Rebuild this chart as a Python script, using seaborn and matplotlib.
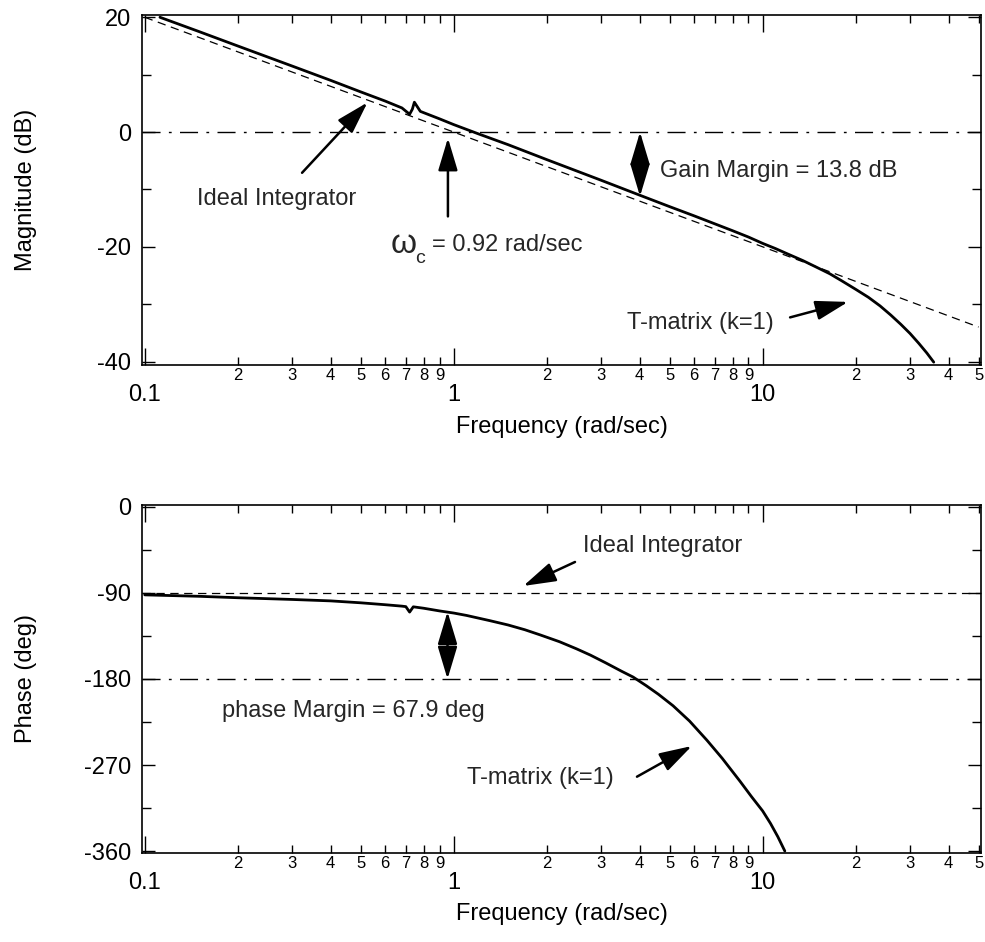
import numpy as np
import pandas as pd
import matplotlib
matplotlib.use("Agg")
import matplotlib.pyplot as plt
import seaborn as sns
from matplotlib.patches import ArrowStyle

# ---------------- data ----------------
ideal_freq = [0.1, 50.0]
ideal_mag = [20.0, -33.98]
ideal_phase = [-90.0, -90.0]

tm_mag_freq = [0.112, 0.15, 0.2, 0.3, 0.4, 0.5, 0.6, 0.68, 0.72, 0.735, 0.746, 0.78,
               0.9, 1.0, 1.2, 1.5, 2.0, 3.0, 4.0, 5.0, 6.0, 8.0, 9.0, 10.0, 11.0, 12.0,
               13.5, 15.0, 16.5, 18.0, 20.0, 22.0, 24.0, 26.0, 28.0, 30.0, 32.0, 34.0, 35.8]
tm_mag = [20.0, 17.5, 15.0, 11.5, 9.0, 7.0, 5.4, 4.2, 3.1, 4.0, 5.2, 3.6,
          2.3, 1.3, -0.3, -2.2, -4.8, -8.4, -11.0, -13.0, -14.6, -17.2, -18.3, -19.4, -20.3,
          -21.2, -22.4, -23.6, -24.7, -25.9, -27.4, -28.8, -30.3, -31.9, -33.5, -35.1,
          -36.8, -38.5, -40.1]

tm_ph_freq = [0.1, 0.15, 0.2, 0.3, 0.4, 0.5, 0.6, 0.68, 0.70, 0.72, 0.74, 0.8, 0.9, 1.0,
              1.1, 1.31, 1.5, 1.7, 1.91, 2.2, 2.5, 2.77, 3.1, 3.5, 3.81, 4.2, 4.6, 5.13,
              5.8, 6.6, 7.4, 8.45, 9.2, 10.0, 10.6, 11.2, 11.8]
tm_phase = [-92.0, -93.5, -95.0, -96.8, -98.3, -100.3, -102.3, -103.8, -104.3, -110.0,
            -104.5, -106.0, -108.8, -111.0, -113.5, -119.0, -123.5, -128.5, -134.0,
            -141.0, -148.5, -155.0, -163.0, -172.0, -178.0, -187.0, -196.0, -208.0,
            -224.0, -244.0, -263.0, -287.0, -303.0, -318.0, -331.0, -345.0, -360.0]

major_x = [0.1, 1, 10]
major_x_labels = ["0.1", "1", "10"]
minor_x = [0.2, 0.3, 0.4, 0.5, 0.6, 0.7, 0.8, 0.9,
           2, 3, 4, 5, 6, 7, 8, 9, 20, 30, 40, 50]
minor_x_labels = ["2", "3", "4", "5", "6", "7", "8", "9",
                  "2", "3", "4", "5", "6", "7", "8", "9", "2", "3", "4", "5"]
mag_ticks = [20, 0, -20, -40]
mag_minor = [10, -10, -30]
ph_ticks = [0, -90, -180, -270, -360]
ph_minor = [-45, -135, -225, -315]

# ---------------- style ----------------
sns.set_theme(style="ticks")
plt.rcParams["font.family"] = ["Liberation Sans", "DejaVu Sans"]
plt.rcParams["lines.scale_dashes"] = False

fig = plt.figure(figsize=(9.85, 9.42), dpi=100)
ax1 = fig.add_axes([0.1442, 0.6125, 0.8517, 0.3716])
ax2 = fig.add_axes([0.1442, 0.0945, 0.8517, 0.3694])

DASH = (0, (6, 4))
DASHDOT = (0, (13, 6, 2, 6))


def style_axis(ax, yt, ymin, ylim, ylabel):
    ax.set_xscale("log")
    ax.set_xlim(0.098, 50.9)
    ax.set_ylim(*ylim)
    ax.set_xticks(major_x)
    ax.set_xticklabels(major_x_labels)
    ax.set_xticks(minor_x, minor=True)
    ax.set_xticklabels(minor_x_labels, minor=True)
    ax.set_yticks(yt)
    ax.set_yticklabels([str(v) for v in yt])
    ax.set_yticks(ymin, minor=True)
    ax.tick_params(axis="x", which="major", direction="in", top=True, bottom=True,
                   length=12, width=1.0, labelsize=17, pad=14, colors="black")
    ax.tick_params(axis="x", which="minor", direction="in", top=True, bottom=True,
                   length=6, width=1.0, labelsize=12, pad=2, colors="black")
    ax.tick_params(axis="y", which="major", direction="in", left=True, right=True,
                   length=9.5, width=1.0, labelsize=17, pad=8, colors="black")
    ax.tick_params(axis="y", which="minor", direction="in", left=True, right=True,
                   length=6.5, width=1.0, colors="black")
    for s in ax.spines.values():
        s.set_linewidth(1.2)
        s.set_color("black")
        s.set_visible(True)
    ax.set_xlabel("Frequency (rad/sec)", fontsize=17, color="black")
    ax.set_ylabel(ylabel, fontsize=17, color="black")
    ax.xaxis.set_label_coords(0.5, -0.145)
    ax.yaxis.set_label_coords(-0.125, 0.5)
    ax.set_facecolor("white")


# ---------------- magnitude ----------------
df_ideal = pd.DataFrame({"freq": ideal_freq, "mag": ideal_mag, "phase": ideal_phase})
df_mag = pd.DataFrame({"freq": tm_mag_freq, "mag": tm_mag})
df_ph = pd.DataFrame({"freq": tm_ph_freq, "phase": tm_phase})

ax1.axhline(0, color="black", lw=1.0, ls=DASHDOT, zorder=1)
sns.lineplot(data=df_ideal, x="freq", y="mag", ax=ax1, color="black", lw=0.9,
             linestyle=DASH, estimator=None, sort=False)
sns.lineplot(data=df_mag, x="freq", y="mag", ax=ax1, color="black", lw=2.0,
             estimator=None, sort=False)
style_axis(ax1, mag_ticks, mag_minor, (-40.6, 20.4), "Magnitude (dB)")

single = ArrowStyle("-|>", head_length=1.0, head_width=0.3)
double = ArrowStyle("<|-|>", head_length=1.0, head_width=0.3)
akw = dict(color="black", lw=1.8, shrinkA=0, shrinkB=0, mutation_scale=20)

ax1.text(0.2665, -11.6, "Ideal Integrator", fontsize=17, ha="center", va="center")
ax1.annotate("", xy=(0.526, 5.16), xytext=(0.323, -7.1),
             arrowprops=dict(arrowstyle=single, **akw))
ax1.annotate("", xy=(0.958, -1.05), xytext=(0.958, -14.7),
             arrowprops=dict(arrowstyle=single, **akw))
ax1.text(0.688, -19.6, "ω", fontsize=24, ha="center", va="center")
ax1.text(0.752, -22.0, "c", fontsize=14, ha="left", va="center")
ax1.text(0.848, -19.6, "= 0.92 rad/sec", fontsize=17, ha="left", va="center")
ax1.annotate("", xy=(4.01, 0.0), xytext=(4.01, -11.2),
             arrowprops=dict(arrowstyle=double, **akw))
ax1.text(4.66, -6.74, "Gain Margin = 13.8 dB", fontsize=17, ha="left", va="center")
ax1.text(6.28, -33.2, "T-matrix (k=1)", fontsize=17, ha="center", va="center")
ax1.annotate("", xy=(18.9, -29.6), xytext=(12.27, -32.3),
             arrowprops=dict(arrowstyle=single, **akw))

# ---------------- phase ----------------
ax2.axhline(-180, color="black", lw=1.0, ls=DASHDOT, zorder=1)
ax2.axhline(-90, color="black", lw=0.9, ls=DASH, zorder=1)
sns.lineplot(data=df_ph, x="freq", y="phase", ax=ax2, color="black", lw=2.0,
             estimator=None, sort=False)
style_axis(ax2, ph_ticks, ph_minor, (-362, 2), "Phase (deg)")

ax2.text(4.73, -40.8, "Ideal Integrator", fontsize=17, ha="center", va="center")
ax2.annotate("", xy=(1.68, -82.7), xytext=(2.47, -57.6),
             arrowprops=dict(arrowstyle=single, **akw))
ax2.annotate("", xy=(0.955, -109.6), xytext=(0.955, -180),
             arrowprops=dict(arrowstyle=double, **akw))
ax2.text(0.178, -213.5, "phase Margin = 67.9 deg", fontsize=17, ha="left", va="center")
ax2.text(1.103, -283.6, "T-matrix (k=1)", fontsize=17, ha="left", va="center")
ax2.annotate("", xy=(5.9, -250.1), xytext=(3.92, -282.2),
             arrowprops=dict(arrowstyle=single, **akw))

fig.savefig("out.png", dpi=100, facecolor="white")
